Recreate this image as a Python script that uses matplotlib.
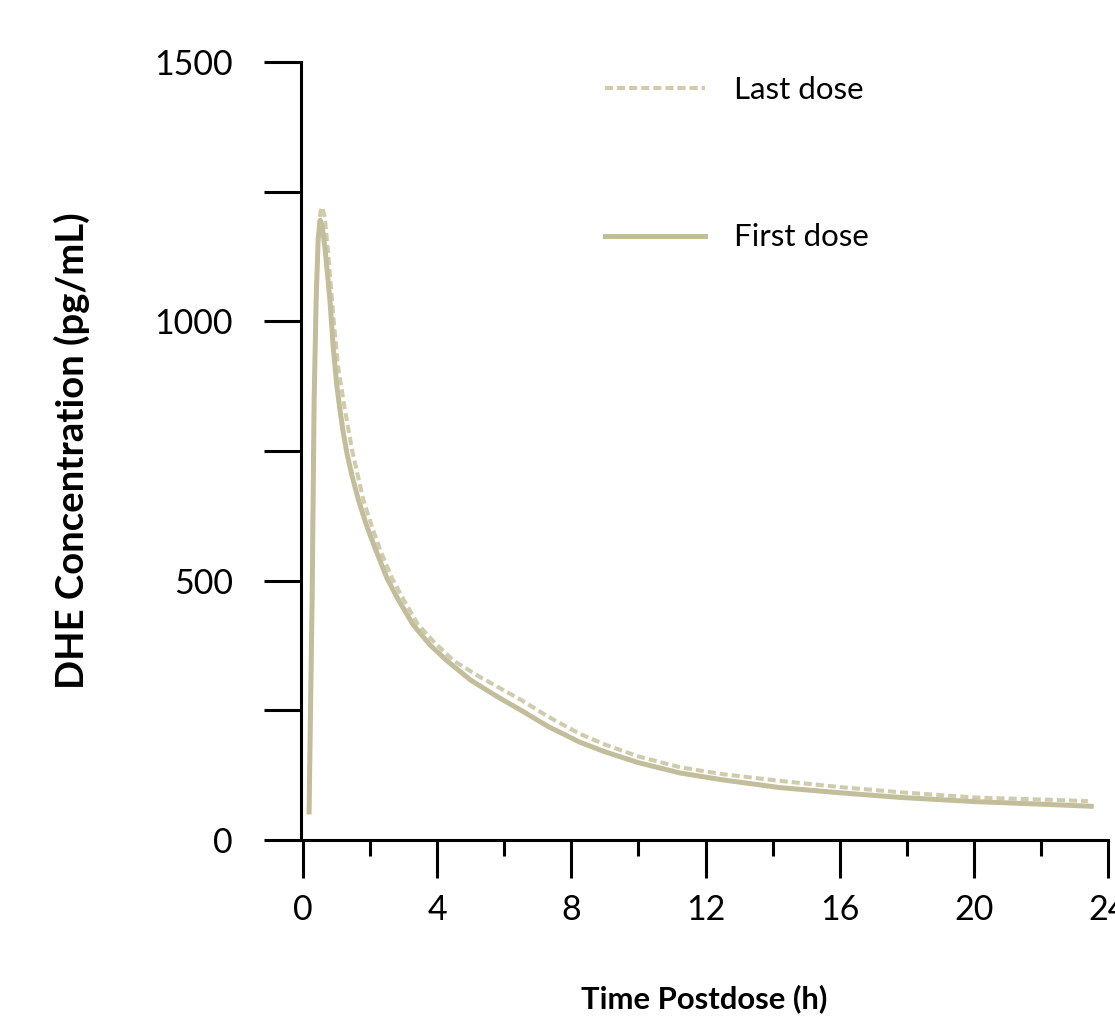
import matplotlib.pyplot as plt
from matplotlib.ticker import MultipleLocator

plt.rcParams['font.family'] = ['Lato', 'DejaVu Sans']

# First dose curve
t_first = [0.18, 0.22, 0.27, 0.33, 0.39, 0.45, 0.51, 0.58, 0.66, 0.73, 0.8, 0.9,
           1.0, 1.1, 1.2, 1.31, 1.45, 1.64, 1.9, 2.15, 2.5, 2.84, 3.28, 3.8,
           4.3, 5.0, 5.8, 6.5, 7.3, 8.27, 9.0, 10.0, 11.25, 12.5, 14.2, 16.0,
           17.8, 20.0, 22.0, 23.5]
c_first = [54, 240, 463, 848, 1041, 1160, 1195, 1180, 1137, 1090, 1041, 950,
           880, 829, 785, 745, 705, 658, 605, 562, 505, 463, 415, 375,
           345, 308, 276, 250, 219, 188, 170, 149, 129, 116, 101, 91,
           82, 74, 69, 65]

# Last dose curve
t_last = [0.18, 0.22, 0.27, 0.33, 0.4, 0.47, 0.52, 0.57, 0.65, 0.75, 0.9, 1.05,
          1.25, 1.46, 1.8, 2.05, 2.3, 2.65, 3.0, 3.43, 3.9, 4.48, 5.28, 6.0,
          6.5, 7.3, 8.27, 9.0, 10.0, 11.25, 12.5, 14.2, 16.0, 17.8, 20.0, 22.0,
          23.4]
c_last = [60, 250, 470, 850, 1070, 1180, 1212, 1220, 1200, 1130, 1010, 910,
          829, 752, 655, 605, 559, 505, 463, 415, 382, 346, 314, 288,
          270, 238, 204, 184, 161, 140, 127, 114, 102, 92, 82, 78,
          75]

x_labels = ['0', '4', '8', '12', '16', '20', '24']
y_labels = ['0', '500', '1000', '1500']

line_col = '#c2be9b'
dash_col = '#cfcbab'

fig = plt.figure(figsize=(11.15, 10.18), dpi=100)
ax = fig.add_axes([0.270, 0.1749, 0.7237, 0.7642])

ax.plot(t_last, c_last, color=dash_col, lw=2.9, dashes=(2.0, 1.0), label='Last dose')
ax.plot(t_first, c_first, color=line_col, lw=3.6, solid_joinstyle='round',
        label='First dose')

ax.set_xlim(-0.06, 24)
ax.set_ylim(0, 1500)

# axis styling
for side in ['top', 'right']:
    ax.spines[side].set_visible(False)
for side in ['left', 'bottom']:
    ax.spines[side].set_linewidth(2.2)

ax.set_xticks([0, 4, 8, 12, 16, 20, 24])
ax.set_xticklabels(x_labels)
ax.xaxis.set_minor_locator(MultipleLocator(2))
ax.set_yticks([0, 500, 1000, 1500])
ax.set_yticklabels(y_labels)
ax.yaxis.set_minor_locator(MultipleLocator(250))

ax.tick_params(axis='x', which='major', length=27, width=2.2, direction='out',
               labelsize=24.5, pad=12)
ax.tick_params(axis='x', which='minor', length=11.5, width=2.2, direction='out')
ax.tick_params(axis='y', which='both', length=27, width=2.2, direction='out',
               labelsize=24.5, pad=22)

ax.set_ylabel('DHE Concentration (pg/mL)', fontsize=27.5, fontweight='bold')
ax.yaxis.set_label_coords(-0.262, 0.5)
ax.set_xlabel('Time Postdose (h)', fontsize=22.3, fontweight='bold')
ax.xaxis.set_label_coords(0.5, -0.186)

ax.legend(loc='upper left', bbox_to_anchor=(0.3414, 1.018), frameon=False,
          fontsize=22.5, handlelength=3.2, handletextpad=0.95, labelspacing=3.82)

fig.savefig('out.png', dpi=100)
